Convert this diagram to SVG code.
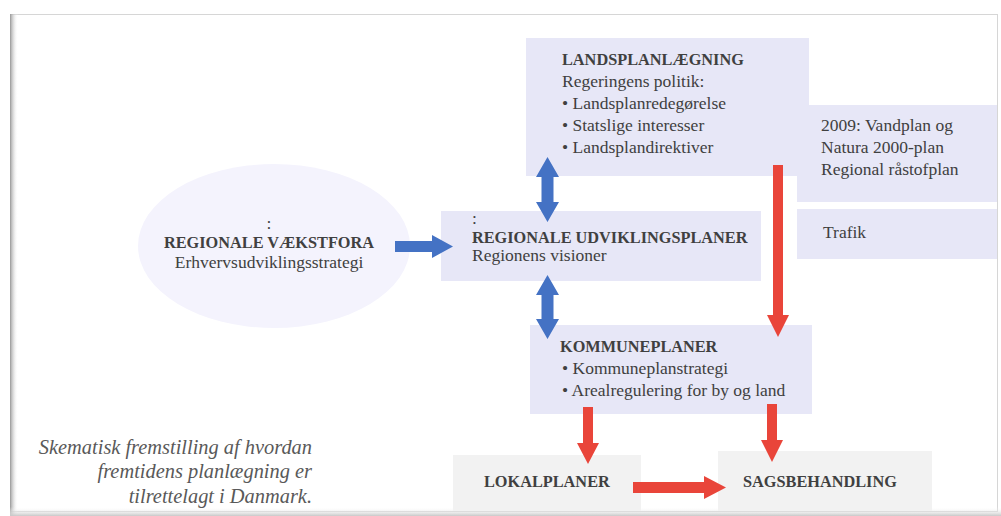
<svg xmlns="http://www.w3.org/2000/svg" width="1001" height="516" viewBox="0 0 1001 516">
<defs>
<linearGradient id="shL" x1="0" y1="0" x2="1" y2="0">
<stop offset="0" stop-color="#9a9a9a"/><stop offset="1" stop-color="#ffffff" stop-opacity="0"/>
</linearGradient>
<linearGradient id="shB" x1="0" y1="0" x2="0" y2="1">
<stop offset="0" stop-color="#ffffff" stop-opacity="0"/><stop offset="1" stop-color="#c8c8c8"/>
</linearGradient>
<style>
.box{fill:#e7e7f7}
.gbox{fill:#f2f2f2}
.t{font-family:"Liberation Serif","Times New Roman",serif;fill:#404040;font-size:17.5px}
.b{font-family:"Liberation Serif","Times New Roman",serif;fill:#404040;font-size:16.3px;font-weight:bold}
.cap{font-family:"Liberation Serif","Times New Roman",serif;fill:#595959;font-size:20.4px;font-style:italic}
.blue{fill:#4472c4}
.red{fill:#e9453a}
</style>
</defs>
<rect x="0" y="0" width="1001" height="516" fill="#ffffff"/>
<g id="frame">
<rect x="10.5" y="14.5" width="987" height="497" fill="#ffffff" stroke="#d6d6d6" stroke-width="1"/>
<rect x="10" y="14" width="8" height="502" fill="url(#shL)"/>
<rect x="10" y="507" width="991" height="9" fill="url(#shB)"/>
</g>
<g id="vaekstfora">
<ellipse cx="274" cy="246" rx="136" ry="82" fill="#f4f3fd"/>
<text class="t" x="269" y="229" text-anchor="middle">:</text>
<text class="b" x="269" y="248" text-anchor="middle">REGIONALE VÆKSTFORA</text>
<text class="t" x="269" y="268" text-anchor="middle">Erhvervsudviklingsstrategi</text>
</g>
<g id="landsplan">
<rect class="box" x="526" y="38" width="283" height="138"/>
<text class="b" x="562" y="65">LANDSPLANLÆGNING</text>
<text class="t" x="562" y="87">Regeringens politik:</text>
<text class="t" x="562" y="109">• Landsplanredegørelse</text>
<text class="t" x="562" y="131">• Statslige interesser</text>
<text class="t" x="562" y="153">• Landsplandirektiver</text>
</g>
<g id="vandplan">
<rect class="box" x="797" y="105" width="200" height="97"/>
<text class="t" x="821" y="131">2009: Vandplan og</text>
<text class="t" x="821" y="153">Natura 2000-plan</text>
<text class="t" x="821" y="175">Regional råstofplan</text>
</g>
<g id="trafik">
<rect class="box" x="797" y="209" width="200" height="50"/>
<text class="t" x="823" y="238">Trafik</text>
</g>
<g id="udviklingsplaner">
<rect class="box" x="441" y="211" width="320" height="70"/>
<text class="t" x="472" y="224">:</text>
<text class="b" x="472" y="243">REGIONALE UDVIKLINGSPLANER</text>
<text class="t" x="472" y="261">Regionens visioner</text>
</g>
<g id="kommuneplaner">
<rect class="box" x="530" y="325" width="282" height="89"/>
<text class="b" x="560" y="352">KOMMUNEPLANER</text>
<text class="t" x="562" y="374">• Kommuneplanstrategi</text>
<text class="t" x="562" y="396">• Arealregulering for by og land</text>
</g>
<g id="lokalplaner">
<rect class="gbox" x="453" y="455" width="188" height="56"/>
<text class="b" x="484" y="487">LOKALPLANER</text>
</g>
<g id="sagsbehandling">
<rect class="gbox" x="718" y="451" width="214" height="60"/>
<text class="b" x="743" y="487">SAGSBEHANDLING</text>
</g>
<g id="caption">
<text class="cap" x="312" y="454" text-anchor="end">Skematisk fremstilling af hvordan</text>
<text class="cap" x="312" y="478" text-anchor="end">fremtidens planlægning er</text>
<text class="cap" x="312" y="503" text-anchor="end">tilrettelagt i Danmark.</text>
</g>
<g id="connectors">
<polygon class="blue" points="395,241 432,241 432,235 453,246.5 432,258 432,252 395,252"/>
<polygon class="blue" points="547.5,157 559,177 553.5,177 553.5,202 559,202 547.5,222 536,202 541.5,202 541.5,177 536,177"/>
<polygon class="blue" points="547.5,275 559,295 553.5,295 553.5,319 559,319 547.5,339 536,319 541.5,319 541.5,295 536,295"/>
<polygon class="red" points="773,165 783,165 783,315 789,315 778,337 767,315 773,315"/>
<polygon class="red" points="583,407 593,407 593,443 599,443 588,464 577,443 583,443"/>
<polygon class="red" points="767,404 777,404 777,440 783,440 772,462 761,440 767,440"/>
<polygon class="red" points="633,482 704,482 704,476 726,487.5 704,499 704,493 633,493"/>
</g>
</svg>
